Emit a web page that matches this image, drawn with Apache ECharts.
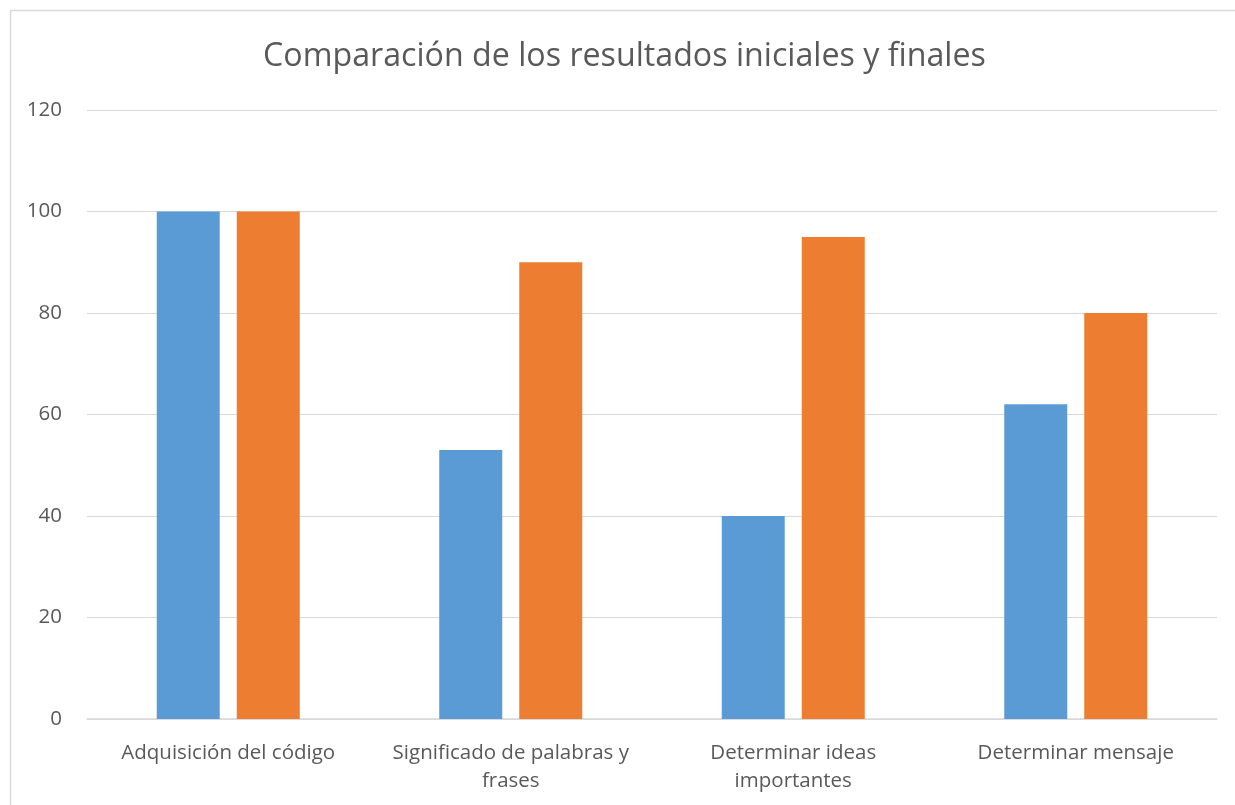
<!DOCTYPE html>
<html><head><meta charset="utf-8">
<script src="https://cdn.jsdelivr.net/npm/echarts@6/dist/echarts.min.js"></script>
<style>html,body{margin:0;padding:0;background:#fff}#c{width:1235px;height:805px}</style>
</head><body><div id="c"></div>
<script>
const categories = ['Adquisición del código', 'Significado de palabras y\nfrases', 'Determinar ideas\nimportantes', 'Determinar mensaje'];
const inicial = [100, 53, 40, 62];
const final = [100, 90, 95, 80];
const yTicks = { min: 0, max: 120, interval: 20 };

const chart = echarts.init(document.getElementById('c'), null, { renderer: 'canvas' });
const font = 'Open Sans';
chart.setOption({
  animation: false,
  backgroundColor: '#ffffff',
  graphic: [{
    type: 'rect', shape: { x: 10.5, y: 10.5, width: 1240, height: 810 },
    style: { fill: 'none', stroke: '#d9d9d9', lineWidth: 1.5 }, silent: true
  }],
  title: {
    text: 'Comparación de los resultados iniciales y finales',
    left: 258, top: 36,
    textStyle: { fontFamily: font, fontSize: 32.2, fontWeight: 'normal', color: '#595959' }
  },
  grid: { left: 87, right: 18, top: 110, bottom: 86, containLabel: false },
  xAxis: {
    type: 'category', data: categories,
    axisLine: { show: true, lineStyle: { color: '#d9d9d9', width: 1.5 } },
    axisTick: { show: false },
    axisLabel: { fontFamily: font, fontSize: 20.5, color: '#595959', margin: 20, lineHeight: 28, interval: 0 }
  },
  yAxis: {
    type: 'value', min: yTicks.min, max: yTicks.max, interval: yTicks.interval,
    axisLine: { show: false }, axisTick: { show: false },
    splitLine: { lineStyle: { color: '#d9d9d9', width: 1.2 } },
    axisLabel: { fontFamily: font, fontSize: 20.5, color: '#595959', margin: 25 }
  },
  series: [
    { name: 'Inicial', type: 'bar', data: inicial, barWidth: 63, barGap: '27%', itemStyle: { color: '#5b9bd5' } },
    { name: 'Final', type: 'bar', data: final, barWidth: 63, itemStyle: { color: '#ed7d31' } }
  ]
});
</script></body></html>
